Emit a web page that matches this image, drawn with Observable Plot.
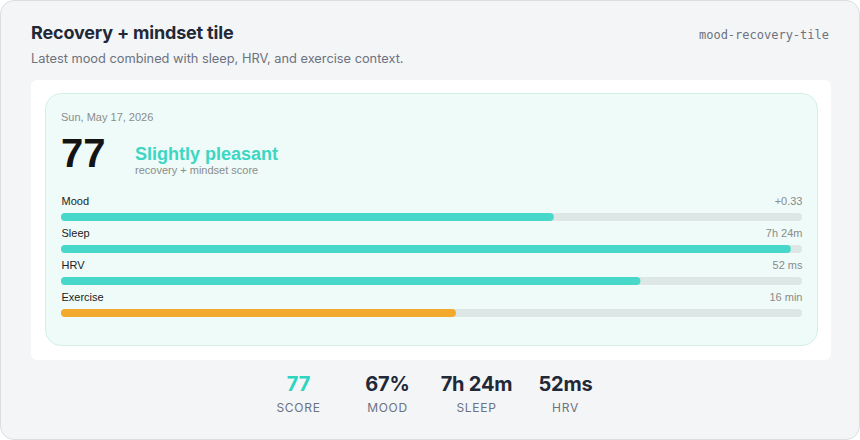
<!DOCTYPE html>
<html>
<head>
<meta charset="utf-8">
<script src="https://cdn.jsdelivr.net/npm/d3@7"></script>
<script src="https://cdn.jsdelivr.net/npm/@observablehq/plot@0.6"></script>
<style>
  html, body { margin: 0; padding: 0; background: #ffffff; }
  #card {
    position: relative; box-sizing: border-box; width: 860px; height: 440px;
    background: #f4f5f7; border: 1px solid #dadde2; border-radius: 14px;
    font-family: Inter, "Noto Sans", sans-serif; overflow: hidden;
  }
  .abs { position: absolute; white-space: nowrap; line-height: 1; }
  #title { left: 30px; top: 23px; font-size: 18px; font-weight: 700; color: #1f2937; letter-spacing: -0.01em; }
  #subtitle { left: 30px; top: 52px; font-size: 12.8px; color: #6b7280; }
  #slug { right: 30px; top: 28px; font-family: "DejaVu Sans Mono", monospace; font-size: 12px; color: #6b7280; }
  #panel { position: absolute; left: 30px; top: 79px; width: 800px; height: 280px; background: #ffffff; border-radius: 6px; }
  #tile { position: absolute; left: 44px; top: 92px; width: 773px; height: 253px; box-sizing: border-box;
          background: #eefbf8; border: 1px solid #d4eee8; border-radius: 16px; }
  .tf { font-family: "Liberation Sans", Arial, sans-serif; }
  #date { left: 60px; top: 111px; font-size: 11px; color: #8c8c8c; }
  #score { left: 60px; top: 132px; font-size: 40px; font-weight: 700; color: #141414; }
  #mood { left: 134px; top: 144px; font-size: 18px; font-weight: 700; color: #3dd6c3; }
  #moodsub { left: 134px; top: 164px; font-size: 11px; color: #8c8c8c; }
  #bars { position: absolute; left: 44px; top: 185px; }
  #stats { position: absolute; left: 1px; width: 860px; top: 373px; display: flex; justify-content: center; }
  .stat { width: 89px; text-align: center; }
  .sv { font-size: 20px; font-weight: 700; color: #1f2937; line-height: 20px; height: 28px; letter-spacing: -0.01em; }
  .sl { font-size: 12px; color: #6b7280; letter-spacing: 0.06em; line-height: 12px; }
</style>
</head>
<body>
<div id="card">
  <div id="title" class="abs"></div>
  <div id="subtitle" class="abs"></div>
  <div id="slug" class="abs"></div>
  <div id="panel"></div>
  <div id="tile"></div>
  <div id="date" class="abs tf"></div>
  <div id="score" class="abs tf"></div>
  <div id="mood" class="abs tf"></div>
  <div id="moodsub" class="abs tf"></div>
  <div id="bars"></div>
  <div id="stats"></div>
</div>
<script>
// ---- data ----
const titleText = "Recovery + mindset tile";
const subtitleText = "Latest mood combined with sleep, HRV, and exercise context.";
const slugText = "mood-recovery-tile";
const dateText = "Sun, May 17, 2026";
const scoreValue = 77;
const moodLabel = "Slightly pleasant";
const moodSub = "recovery + mindset score";

const metrics = ["Mood", "Sleep", "HRV", "Exercise"];
const metricPercent = [66.5, 98.5, 78.2, 53.3];
const metricValueLabels = ["+0.33", "7h 24m", "52 ms", "16 min"];
const metricStatus = ["ok", "ok", "ok", "low"];

const statValues = ["77", "67%", "7h 24m", "52ms"];
const statLabels = ["SCORE", "MOOD", "SLEEP", "HRV"];

// ---- text ----
document.getElementById("title").textContent = titleText;
document.getElementById("subtitle").textContent = subtitleText;
document.getElementById("slug").textContent = slugText;
document.getElementById("date").textContent = dateText;
document.getElementById("score").textContent = scoreValue;
document.getElementById("mood").textContent = moodLabel;
document.getElementById("moodsub").textContent = moodSub;

// ---- bars ----
const rows = metrics.map((m, i) => ({metric: m, pct: metricPercent[i], label: metricValueLabels[i], status: metricStatus[i]}));
const teal = "#48d8c9", orange = "#f2a92c", track = "#dde8e6";

const chart = Plot.plot({
  width: 773, height: 140,
  marginLeft: 16, marginRight: 16, marginTop: 0, marginBottom: 0,
  style: {background: "transparent", fontFamily: "Liberation Sans, Arial, sans-serif", fontSize: "11px"},
  x: {domain: [0, 100], axis: null},
  y: {type: "band", domain: metrics, range: [27, 131], paddingInner: 0.75, paddingOuter: 0, axis: null},
  color: {domain: ["ok", "low"], range: [teal, orange]},
  marks: [
    Plot.barX(rows, {x1: 0, x2: 100, y: "metric", fill: track, rx: 4}),
    Plot.barX(rows, {x1: 0, x2: "pct", y: "metric", fill: "status", rx: 4}),
    Plot.text(rows, {x: 0, y: "metric", text: "metric", textAnchor: "start", lineAnchor: "bottom", dy: -12.5, fill: "#222222"}),
    Plot.text(rows, {x: 100, y: "metric", text: "label", textAnchor: "end", lineAnchor: "bottom", dy: -12.5, fill: "#8a8a8a"})
  ]
});
document.getElementById("bars").appendChild(chart);

// ---- stats ----
const stats = document.getElementById("stats");
statValues.forEach((v, i) => {
  const d = document.createElement("div");
  d.className = "stat";
  d.innerHTML = `<div class="sv" style="color:${i === 0 ? "#2dd4bf" : "#1f2937"}">${v}</div><div class="sl">${statLabels[i]}</div>`;
  stats.appendChild(d);
});
</script>
</body>
</html>
